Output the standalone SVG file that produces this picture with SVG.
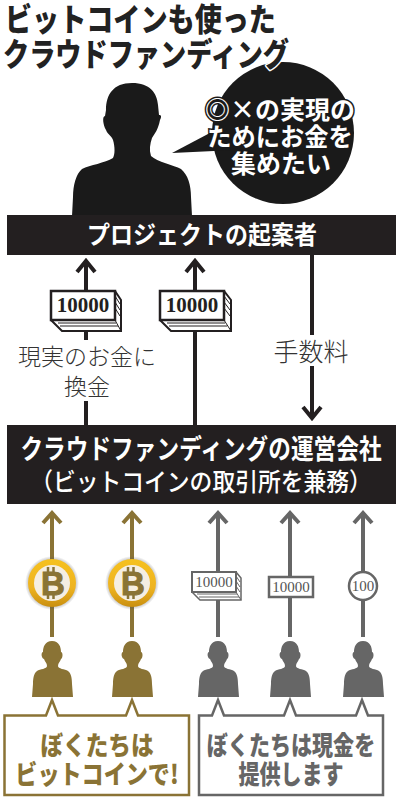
<svg xmlns="http://www.w3.org/2000/svg" width="400" height="800" viewBox="0 0 400 800">
<style>
text{font-family:"Noto Sans CJK JP","Noto Sans",sans-serif;text-anchor:middle}
.b{font-weight:900}
.w{fill:#fff;font-weight:700}
.t{font-weight:900;fill:#222;text-anchor:start;stroke:#fff;stroke-width:3;paint-order:stroke;stroke-linejoin:round;font-size:32px}
.s{font-weight:700;fill:#fff;stroke:#1a1a1a;stroke-width:3;paint-order:stroke;font-size:25px}
.num{font-family:"Liberation Serif",serif;font-weight:700}
.k{fill:none;stroke:#231f20;stroke-width:4}
.g{fill:none;stroke:#8a7335;stroke-width:4}
.y{fill:none;stroke:#666;stroke-width:4}
.lab{font-size:23px;fill:#333;font-weight:300}
</style>
<defs>
<path id="man" d="M52 641C45 641 43 647 43 652C41 652 41 658 44 659C45 662 47 663 47 666C47 669 40 669 37 671C34 673 33 678 33 684L32 697H73L72 684C72 678 71 673 68 671C65 669 58 669 58 666C58 663 60 662 61 659C63 658 63 652 61 652C61 647 59 641 52 641Z"/>
<linearGradient id="gold" x1="0" y1="0" x2="0" y2="1"><stop offset="0" stop-color="#f6c11f"/><stop offset="0.6" stop-color="#eeb321"/><stop offset="1" stop-color="#c98f10"/></linearGradient>
<radialGradient id="halo"><stop offset="0.8" stop-color="#555" stop-opacity=".5"/><stop offset="1" stop-color="#555" stop-opacity="0"/></radialGradient>
<g id="coin">
<circle r="27" fill="url(#halo)"/>
<circle r="24" fill="url(#gold)"/>
<circle r="18" fill="#f5eee2"/>
<path d="M-4 -16V-10M1.500 -16V-10M-4 10V16M1.500 10V16" stroke="#8a7335" stroke-width="2.500" fill="none"/>
<text x="1" y="12" font-size="33" fill="#8a7335" stroke="#8a7335" stroke-width="1" style="font-family:'Liberation Sans',sans-serif;font-weight:700">B</text>
</g>
</defs>

<g id="bubble">
<circle cx="283" cy="133" r="71" fill="#1a1a1a"/>
<path d="M172 153L225 125L235 150Z" fill="#1a1a1a"/>
<text class="s" x="280" y="119">◎×の実現の</text>
<text class="s" transform="translate(280,146) scale(.97,1)">ためにお金を</text>
<text class="s" x="281" y="173">集めたい</text>
</g>

<g id="title">
<text class="t" transform="translate(5,31) scale(.847,1)">ビットコインも使った</text>
<text class="t" transform="translate(3,66) scale(.818,1)">クラウドファンディング</text>
</g>

<g id="founder">
<path fill="#1a1a1a" d="M132 83C113 83 106 95 106 110L105 116C102 116 103 125 106 130C108 135 111 135 113 140C115 147 115 154 113 158C105 163 90 165 82 169C76 174 73 185 73 197L72 216H192L191 197C191 185 188 175 181 169C174 165 157 162 151 156C149 150 150 144 152 138C155 133 158 130 160 120C162 116 161 115 159 115L158 105C157 93 150 83 132 83Z"/>
<rect x="7" y="215" width="389" height="40" fill="#231f20"/>
<text class="w" transform="translate(202,244) scale(.92,1)" font-size="25">プロジェクトの起案者</text>
</g>

<g id="operator">
<rect x="7" y="425" width="389" height="79" fill="#231f20"/>
<text class="w" transform="translate(201,459) scale(.84,1)" font-size="27">クラウドファンディングの運営会社</text>
<text class="w" transform="translate(201,491) scale(.912,1)" font-size="25" style="font-weight:500">（ビットコインの取引所を兼務）</text>
</g>

<g id="connectors">
<path class="k" d="M86 425V401M86 340V330M86 292V261M77 272L86 261L95 272"/>
<path class="k" d="M195 425V261M186 272L195 261L204 272"/>
<path class="k" d="M312 255V335M312 366V417M303 407L312 418L321 407"/>
<path class="g" d="M52 637V513M43 523L52 513L61 523"/>
<path class="g" d="M132 637V513M123 523L132 513L141 523"/>
<path class="y" d="M218 637V513M209 523L218 513L227 523"/>
<path class="y" d="M290 637V513M281 523L290 513L299 523"/>
<path class="y" d="M363 637V513M354 523L363 513L372 523"/>
</g>

<g id="label-convert">
<text class="lab" x="87" y="365">現実のお金に</text>
<text class="lab" x="87" y="395">換金</text>
</g>
<g id="label-fee"><text class="lab" x="311" y="361" style="font-size:25px">手数料</text></g>

<g id="money1">
<path d="M51 291H115L121 300V331H62L51 320Z" fill="#fff" stroke="#231f20" stroke-width="2"/>
<rect x="51" y="291" width="64" height="29" fill="#fff" stroke="#231f20" stroke-width="2.500"/>
<path d="M115 320L121 331M115 296L120 304M115 302L120 310M115 308L120 316M58 323H116M60 326H118" stroke="#231f20" stroke-width="1" fill="none"/>
<text class="num" x="83" y="312" font-size="21" fill="#231f20">10000</text>
</g>
<g id="money2">
<path d="M160 291H224L231 300V331H171L160 320Z" fill="#fff" stroke="#231f20" stroke-width="2"/>
<rect x="160" y="291" width="64" height="29" fill="#fff" stroke="#231f20" stroke-width="2.500"/>
<path d="M224 320L231 331M224 296L230 304M224 302L230 310M224 308L230 316M167 323H225M169 326H227" stroke="#231f20" stroke-width="1" fill="none"/>
<text class="num" x="192" y="312" font-size="21" fill="#231f20">10000</text>
</g>

<use id="coin1" href="#coin" x="52" y="583"/>
<use id="coin2" href="#coin" x="132" y="583"/>

<g id="money3">
<path d="M192 572H236L241 578V600H200L192 592Z" fill="#fff" stroke="#666" stroke-width="1.500"/>
<rect x="192" y="572" width="44" height="20" fill="#fff" stroke="#666" stroke-width="2"/>
<path d="M236 592L241 600M236 576L240 582M236 581L240 587M236 586L240 592M197 594H237M199 597H239" stroke="#666" stroke-width="1" fill="none"/>
<text class="num" x="214" y="587" font-size="15" fill="#555" style="font-weight:400">10000</text>
</g>
<g id="money4">
<rect x="269" y="577" width="44" height="20" fill="#fff" stroke="#666" stroke-width="2.500"/>
<text class="num" x="291" y="592" font-size="15" fill="#555" style="font-weight:400">10000</text>
</g>
<g id="money5">
<circle cx="363" cy="586" r="14" fill="#fff" stroke="#666" stroke-width="2.500"/>
<text class="num" x="363" y="591" font-size="15" fill="#555" style="font-weight:400">100</text>
</g>

<g id="person1" fill="#8a7335"><use href="#man"/></g>
<g id="person2" fill="#8a7335"><use href="#man" x="80"/></g>
<g id="person3" fill="#666"><use href="#man" x="166"/></g>
<g id="person4" fill="#666"><use href="#man" x="238"/></g>
<g id="person5" fill="#666"><use href="#man" x="311"/></g>

<g id="gold-callout">
<path d="M4.500 715.500H46L52 700L58 715.500H126L132 700L138 715.500H189V795H4.500Z" fill="#fff" stroke="#8a7335" stroke-width="2.500"/>
<text class="b" transform="translate(97,755) scale(.87,1)" font-size="26" fill="#8a7335">ぼくたちは</text>
<text class="b" transform="translate(97,784) scale(.85,1)" font-size="26" fill="#8a7335">ビットコインで!</text>
</g>
<g id="gray-callout">
<path d="M199 715.500H212L218 700L224 715.500H284L290 700L296 715.500H356L362 700L368 715.500H383V795H199Z" fill="#fff" stroke="#666" stroke-width="2.500"/>
<text class="b" transform="translate(291,755) scale(.81,1)" font-size="26" fill="#666">ぼくたちは現金を</text>
<text class="b" transform="translate(291,784) scale(.81,1)" font-size="26" fill="#666">提供します</text>
</g>
</svg>
